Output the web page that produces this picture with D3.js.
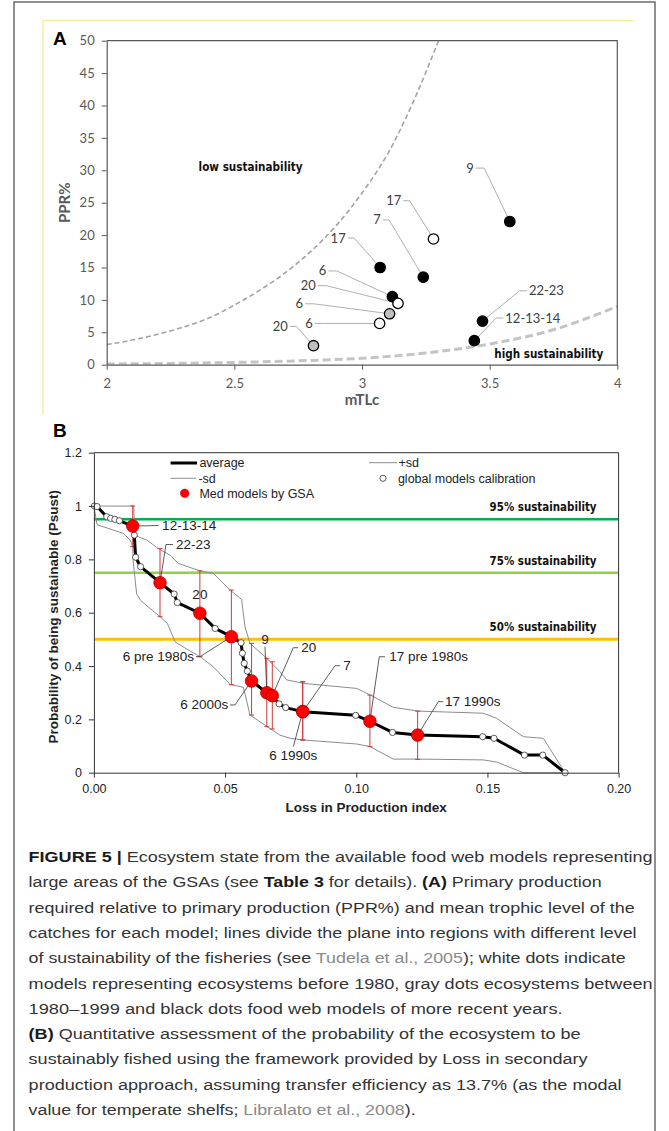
<!DOCTYPE html>
<html>
<head>
<meta charset="utf-8">
<script src="https://cdn.jsdelivr.net/npm/d3@7"></script>
<style>
  body { margin: 0; background: #fff; }
  svg { display: block; }
</style>
</head>
<body>
<div id="chart"></div>
<script>
var svgWidth = 669;
var svgHeight = 1131;

// ---------- Panel A data (mTLc vs PPR%) ----------
var modelLabelsA = ["9", "17", "7", "17", "6", "20", "6", "6", "20", "22-23", "12-13-14"];
var mtlc = [3.579, 3.28, 3.24, 3.071, 3.119, 3.141, 3.108, 3.069, 2.81, 3.472, 3.44];
var pprPct = [22.1, 19.4, 13.5, 15.0, 10.5, 9.46, 7.86, 6.37, 2.93, 6.73, 3.7];
var periodA = ["recent", "pre1980", "recent", "recent", "recent", "pre1980", "1980s", "pre1980", "1980s", "recent", "recent"];

// Tudela et al. boundaries
var lowSustX = [2.0, 2.1, 2.2, 2.3, 2.4, 2.5, 2.6, 2.7, 2.8, 2.9, 3.0, 3.1, 3.2, 3.3];
var lowSustY = [3.1, 3.8, 4.7, 5.8, 7.2, 9.2, 11.5, 14.2, 17.5, 21.5, 26.5, 32.5, 40.5, 50];
var highSustX = [2.0, 2.25, 2.5, 2.75, 3.0, 3.25, 3.5, 3.75, 4.0];
var highSustY = [0.1, 0.2, 0.35, 0.6, 1.0, 1.8, 3.2, 5.4, 9.0];

var xTicksA = [2, 2.5, 3, 3.5, 4];
var yTicksA = [0, 5, 10, 15, 20, 25, 30, 35, 40, 45, 50];

// ---------- Panel B data (Loss in Production vs Psust) ----------
var medLabels = ["12-13-14", "22-23", "20", "6 pre 1980s", "6 2000s", "9", "20", "7", "6 1990s", "17 pre 1980s", "17 1990s"];
var medLoss = [0.0148, 0.0252, 0.0404, 0.0524, 0.0601, 0.0659, 0.068, 0.0796, 0.0796, 0.1052, 0.1234];
var medPsust = [0.925, 0.7125, 0.598, 0.51, 0.344, 0.30, 0.289, 0.229, 0.229, 0.193, 0.141];
var medSdHigh = [1.0, 0.84, 0.757, 0.685, 0.485, 0.429, 0.416, 0.341, 0.341, 0.291, 0.231];
var medSdLow = [0.848, 0.585, 0.435, 0.33, 0.216, 0.1725, 0.164, 0.1226, 0.1226, 0.098, 0.05];

var globalLoss = [0.0002, 0.0012, 0.0049, 0.0064, 0.008, 0.0097, 0.0154, 0.0159, 0.0178, 0.0306, 0.0318,
  0.0462, 0.0561, 0.0566, 0.0573, 0.0585, 0.0706, 0.0731, 0.0998, 0.1138, 0.1482, 0.1525, 0.1641, 0.1711, 0.1796];
var globalPsust = [1.0, 0.998, 0.960, 0.954, 0.950, 0.945, 0.891, 0.808, 0.7725, 0.67, 0.638,
  0.541, 0.4875, 0.448, 0.41, 0.381, 0.258, 0.244, 0.215, 0.151, 0.135, 0.129, 0.066, 0.066, 0];

var plusSdLoss = [0, 0.0152, 0.0155, 0.0201, 0.0245, 0.029, 0.0322, 0.0404, 0.0455, 0.0519, 0.0563, 0.0576,
  0.0595, 0.0659, 0.0709, 0.0735, 0.0798, 0.1002, 0.1052, 0.1141, 0.1237, 0.1484, 0.1535, 0.1637, 0.1713, 0.1796];
var plusSdPsust = [1.0, 1.0, 0.89, 0.873, 0.841, 0.816, 0.785, 0.757, 0.7475, 0.685, 0.65, 0.547,
  0.485, 0.429, 0.379, 0.348, 0.335, 0.316, 0.292, 0.245, 0.231, 0.223, 0.204, 0.135, 0.129, 0];

var minusSdLoss = [0, 0.0012, 0.0112, 0.0138, 0.0148, 0.015, 0.0163, 0.0179, 0.0252, 0.028, 0.031, 0.036,
  0.0405, 0.0455, 0.0519, 0.057, 0.0595, 0.0671, 0.0709, 0.0748, 0.0798, 0.1002, 0.1052, 0.1141,
  0.1237, 0.1484, 0.1535, 0.1637, 0.18];
var minusSdPsust = [1.0, 0.93, 0.8975, 0.8725, 0.85, 0.79, 0.67, 0.645, 0.585, 0.56, 0.49, 0.46,
  0.435, 0.3975, 0.331, 0.32, 0.216, 0.166, 0.141, 0.129, 0.1226, 0.1076, 0.098, 0.051,
  0.051, 0.048, 0.04, 0, 0];

var sustLevels = [0.95, 0.75, 0.5];
var sustLabels = ["95% sustainability", "75% sustainability", "50% sustainability"];
var sustColors = ["#00b050", "#92d050", "#ffc000"];

var xTicksB = [0, 0.05, 0.1, 0.15, 0.2];
var yTicksB = [0, 0.2, 0.4, 0.6, 0.8, 1, 1.2];

// ---------- fonts ----------
var fontNarrow = '"Liberation Sans Narrow", "DejaVu Sans Condensed", sans-serif';
var fontLato = 'Lato, "Liberation Sans", sans-serif';
var fontArial = '"Liberation Sans", Arial, sans-serif';

var svg = d3.select("#chart")
  .append("svg")
  .attr("width", svgWidth)
  .attr("height", svgHeight);

// outer frame + yellow panel edge
svg.append("rect")
  .attr("x", 14).attr("y", 2).attr("width", 641).attr("height", 1200)
  .attr("fill", "none").attr("stroke", "#555").attr("stroke-width", 1.3);
svg.append("path")
  .attr("d", "M43,415V20.7H634")
  .attr("fill", "none").attr("stroke", "#f2ee98").attr("stroke-width", 1.3);

// ================= PANEL A =================
var marginA = {top: 40.7, left: 106.7},
  widthA = 510.6,
  heightA = 324;

var chartA = svg.append("g")
  .attr("transform", `translate(${marginA.left}, ${marginA.top})`);

var xA = d3.scaleLinear().domain([2, 4]).range([0, widthA]);
var yA = d3.scaleLinear().domain([0, 50]).range([heightA, 0]);

chartA.append("clipPath").attr("id", "clipA")
  .append("rect").attr("width", widthA).attr("height", heightA);

var axisColA = "#595959";

// boundaries
var boundLine = d3.line()
  .x(d => xA(d[0]))
  .y(d => yA(d[1]))
  .curve(d3.curveMonotoneX);

chartA.append("path")
  .datum(d3.zip(lowSustX, lowSustY))
  .attr("d", boundLine)
  .attr("clip-path", "url(#clipA)")
  .attr("fill", "none")
  .attr("stroke", "#a3a3a3")
  .attr("stroke-width", 1.6)
  .attr("stroke-dasharray", "5,3");

chartA.append("path")
  .datum(d3.zip(highSustX, highSustY))
  .attr("d", boundLine)
  .attr("clip-path", "url(#clipA)")
  .attr("fill", "none")
  .attr("stroke", "#c4c4c4")
  .attr("stroke-width", 3)
  .attr("stroke-dasharray", "8,4");

var leftAxisA = chartA.append("g")
  .call(d3.axisLeft(yA).tickValues(yTicksA).tickSize(5).tickPadding(7).tickSizeOuter(0));

var bottomAxisA = chartA.append("g")
  .attr("transform", `translate(0, ${heightA})`)
  .call(d3.axisBottom(xA).tickValues(xTicksA).tickFormat(d => d).tickSize(5).tickPadding(9).tickSizeOuter(0));

[leftAxisA, bottomAxisA].forEach(function(a) {
  a.select(".domain").attr("stroke", axisColA).attr("stroke-width", 1.2);
  a.selectAll(".tick line").attr("stroke", axisColA);
  a.selectAll("text")
    .attr("fill", axisColA)
    .attr("font-family", fontLato)
    .attr("font-size", "13px");
});

chartA.append("path")
  .attr("d", `M0,0H${widthA}V${heightA}`)
  .attr("fill", "none").attr("stroke", axisColA).attr("stroke-width", 1.2);

// label layout: leader start (dx,dy) and elbow dx, relative to the dot
var leaderA = [[-34.1, -53.4, -25.6], [-30.2, -38.3, -23.8], [-40.5, -57.3, -34.2], [-32.4, -29.4, -26],
  [-64, -25.7, -55.5], [-80.2, -17.7, -71.6], [-84.5, -10, -75.9], [-64.9, 0, -56],
  [-23.6, -19.3, -17.1], [44.4, -30.3, 37.1], [29, -22.7, 21.8]];

var pointsA = modelLabelsA.map((lab, i) => ({label: lab, x: mtlc[i], y: pprPct[i], period: periodA[i], lay: leaderA[i]}));

chartA.append("g").selectAll("path")
  .data(pointsA)
  .enter()
  .append("path")
  .attr("d", function(d) {
    var px = xA(d.x), py = yA(d.y);
    return `M${px + d.lay[0]},${py + d.lay[1]}H${px + d.lay[2]}L${px},${py}`;
  })
  .attr("fill", "none")
  .attr("stroke", "#a6a6a6")
  .attr("stroke-width", 0.9);

chartA.append("g").selectAll("text")
  .data(pointsA)
  .enter()
  .append("text")
  .text(d => d.label)
  .attr("x", d => xA(d.x) + d.lay[0] + (d.lay[0] < 0 ? -2 : 2))
  .attr("y", d => yA(d.y) + d.lay[1] + 4.5)
  .attr("text-anchor", d => d.lay[0] < 0 ? "end" : "start")
  .attr("font-family", fontLato)
  .attr("font-size", "13px")
  .attr("fill", "#404040");

var fillByPeriod = {recent: "#000", pre1980: "#fff", "1980s": "#bfbfbf"};

chartA.append("g").selectAll("circle")
  .data(pointsA)
  .enter()
  .append("circle")
  .attr("cx", d => xA(d.x))
  .attr("cy", d => yA(d.y))
  .attr("r", 5.2)
  .attr("fill", d => fillByPeriod[d.period])
  .attr("stroke", "#000")
  .attr("stroke-width", 1.3);

chartA.append("text")
  .attr("x", xA(2.36)).attr("y", 130.5)
  .attr("textLength", 104).attr("lengthAdjust", "spacingAndGlyphs")
  .attr("font-family", fontNarrow).attr("font-weight", "bold").attr("font-size", "13px")
  .attr("fill", "#111")
  .text("low sustainability");

chartA.append("text")
  .attr("x", widthA - 123).attr("y", 317)
  .attr("textLength", 109).attr("lengthAdjust", "spacingAndGlyphs")
  .attr("font-family", fontNarrow).attr("font-weight", "bold").attr("font-size", "13px")
  .attr("fill", "#111")
  .text("high sustainability");

chartA.append("text")
  .attr("transform", "rotate(-90)")
  .attr("x", -heightA / 2).attr("y", -37)
  .attr("text-anchor", "middle")
  .attr("font-family", fontLato).attr("font-weight", "bold").attr("font-size", "15px")
  .attr("fill", axisColA)
  .text("PPR%");

chartA.append("text")
  .attr("x", widthA / 2).attr("y", heightA + 40)
  .attr("text-anchor", "middle")
  .attr("font-family", fontLato).attr("font-weight", "bold").attr("font-size", "15px")
  .attr("fill", axisColA)
  .text("mTLc");

svg.append("text")
  .attr("x", 53).attr("y", 45)
  .attr("font-family", fontArial).attr("font-weight", "bold").attr("font-size", "19px")
  .text("A");

// ================= PANEL B =================
var marginB = {top: 452.7, left: 93.9},
  widthB = 524.7,
  heightB = 320;

var chartB = svg.append("g")
  .attr("transform", `translate(${marginB.left}, ${marginB.top})`);

var xB = d3.scaleLinear().domain([0, 0.2]).range([0, widthB]);
var yB = d3.scaleLinear().domain([0, 1.2]).range([heightB, 0]);

// sustainability thresholds
chartB.append("g").selectAll("line")
  .data(sustLevels)
  .enter()
  .append("line")
  .attr("x1", 0).attr("x2", widthB)
  .attr("y1", d => yB(d)).attr("y2", d => yB(d))
  .attr("stroke", (d, i) => sustColors[i])
  .attr("stroke-width", (d, i) => i === 2 ? 3 : 2.5);

chartB.append("g").selectAll("text")
  .data(sustLevels)
  .enter()
  .append("text")
  .attr("x", widthB - 22 - 107)
  .attr("y", d => yB(d) - 8)
  .attr("textLength", 107).attr("lengthAdjust", "spacingAndGlyphs")
  .attr("font-family", fontNarrow).attr("font-weight", "bold").attr("font-size", "13px")
  .attr("fill", "#111")
  .text((d, i) => sustLabels[i]);

// +sd / -sd envelopes
var xyLine = d3.line().x(d => xB(d[0])).y(d => yB(d[1]));

chartB.append("path")
  .datum(d3.zip(plusSdLoss, plusSdPsust))
  .attr("d", xyLine)
  .attr("fill", "none").attr("stroke", "#8c8c8c").attr("stroke-width", 1);

chartB.append("path")
  .datum(d3.zip(minusSdLoss, minusSdPsust))
  .attr("d", xyLine)
  .attr("fill", "none").attr("stroke", "#8c8c8c").attr("stroke-width", 1);

var medPoints = medLabels.map((lab, i) => ({label: lab, x: medLoss[i], y: medPsust[i], hi: medSdHigh[i], lo: medSdLow[i]}));

// error bars
var errBars = chartB.append("g").attr("stroke", "#cc3b3b").attr("stroke-width", 1).attr("fill", "none");
errBars.selectAll("path")
  .data(medPoints)
  .enter()
  .append("path")
  .attr("d", function(d) {
    var px = xB(d.x);
    return `M${px},${yB(d.hi)}V${yB(d.lo)}M${px - 2.5},${yB(d.hi)}H${px + 2.5}M${px - 2.5},${yB(d.lo)}H${px + 2.5}`;
  });

// average curve through calibration points and Med models
var avgPoints = d3.sort(d3.zip(globalLoss, globalPsust).concat(d3.zip(medLoss, medPsust)), d => d[0]);

chartB.append("path")
  .datum(avgPoints)
  .attr("d", xyLine)
  .attr("fill", "none").attr("stroke", "#000").attr("stroke-width", 3)
  .attr("stroke-linejoin", "round");

chartB.append("g").selectAll("circle")
  .data(d3.zip(globalLoss, globalPsust))
  .enter()
  .append("circle")
  .attr("cx", d => xB(d[0]))
  .attr("cy", d => yB(d[1]))
  .attr("r", 3.1)
  .attr("fill", "#fff")
  .attr("stroke", "#333")
  .attr("stroke-width", 0.8);

// label layout for Med models: text offset, anchor, leader points
var layoutB = [
  {tx: 29.4, ty: 3.8, a: "start", pts: [[26, -0.5]]},
  {tx: 16, ty: -33.7, a: "start", pts: [[13, -38.2], [6, -38.2]]},
  {tx: 0, ty: -14.5, a: "middle", pts: []},
  {tx: -37.4, ty: 24.5, a: "end", pts: [[-35.4, 20], [-31.4, 20]]},
  {tx: -23.3, ty: 28.5, a: "end", pts: [[-21.6, 24], [-16.6, 24]]},
  {tx: -1.8, ty: -48.2, a: "middle", pts: [[-1.8, -46]]},
  {tx: 29, ty: -43.5, a: "start", pts: [[26, -47.9], [21, -47.9]]},
  {tx: 40.5, ty: -41.5, a: "start", pts: [[37.3, -45.9], [32.3, -45.9]]},
  {tx: -9.4, ty: 47.9, a: "middle", pts: [[-9.4, 35]]},
  {tx: 19.4, ty: -60, a: "start", pts: [[15.1, -64.5], [9.4, -64.5]]},
  {tx: 27.4, ty: -28.9, a: "start", pts: [[25.7, -33.4], [20.7, -33.4]]}
];

chartB.append("g").selectAll("path")
  .data(medPoints.filter((d, i) => layoutB[i].pts.length))
  .enter()
  .append("path")
  .attr("d", function(d) {
    var i = medPoints.indexOf(d);
    var px = xB(d.x), py = yB(d.y);
    return "M" + layoutB[i].pts.map(p => `${px + p[0]},${py + p[1]}`).join("L") + `L${px},${py}`;
  })
  .attr("fill", "none").attr("stroke", "#333").attr("stroke-width", 0.8);

chartB.append("g").selectAll("circle")
  .data(medPoints)
  .enter()
  .append("circle")
  .attr("cx", d => xB(d.x))
  .attr("cy", d => yB(d.y))
  .attr("r", 6.3)
  .attr("fill", "#ff0000")
  .attr("stroke", "#a00000")
  .attr("stroke-width", 0.7);

chartB.append("g").selectAll("text")
  .data(medPoints)
  .enter()
  .append("text")
  .text(d => d.label)
  .attr("x", (d, i) => xB(d.x) + layoutB[i].tx)
  .attr("y", (d, i) => yB(d.y) + layoutB[i].ty)
  .attr("text-anchor", (d, i) => layoutB[i].a)
  .attr("font-family", fontArial)
  .attr("font-size", "13.5px")
  .attr("fill", "#222");

// axes
var leftAxisB = chartB.append("g")
  .call(d3.axisLeft(yB).tickValues(yTicksB)
    .tickFormat(d => (d === 0 || d === 1) ? String(d) : d3.format(".1f")(d))
    .tickSize(5).tickPadding(7).tickSizeOuter(0));

var bottomAxisB = chartB.append("g")
  .attr("transform", `translate(0, ${heightB})`)
  .call(d3.axisBottom(xB).tickValues(xTicksB)
    .tickFormat(d3.format(".2f")).tickSize(5).tickPadding(6).tickSizeOuter(0));

[leftAxisB, bottomAxisB].forEach(function(a) {
  a.select(".domain").attr("stroke", "#333");
  a.selectAll(".tick line").attr("stroke", "#333");
  a.selectAll("text")
    .attr("fill", "#222")
    .attr("font-family", fontArial)
    .attr("font-size", "12.5px");
});

chartB.append("path")
  .attr("d", `M0,0H${widthB}V${heightB}`)
  .attr("fill", "none").attr("stroke", "#333");

// legend
var legend = chartB.append("g")
  .attr("font-family", fontArial).attr("font-size", "12.5px").attr("fill", "#222");

legend.append("line").attr("x1", 76.7).attr("x2", 103.1).attr("y1", 10.3).attr("y2", 10.3)
  .attr("stroke", "#000").attr("stroke-width", 3);
legend.append("text").attr("x", 105.5).attr("y", 14.8).text("average");

legend.append("line").attr("x1", 76.7).attr("x2", 102).attr("y1", 25.6).attr("y2", 25.6)
  .attr("stroke", "#8c8c8c").attr("stroke-width", 1);
legend.append("text").attr("x", 104.5).attr("y", 30.1).text("-sd");

legend.append("circle").attr("cx", 90.8).attr("cy", 40.6).attr("r", 4.3)
  .attr("fill", "#ff0000").attr("stroke", "#a00000").attr("stroke-width", 0.5);
legend.append("text").attr("x", 105.5).attr("y", 45.1).text("Med models by GSA");

legend.append("line").attr("x1", 275.1).attr("x2", 303.1).attr("y1", 10).attr("y2", 10)
  .attr("stroke", "#8c8c8c").attr("stroke-width", 1);
legend.append("text").attr("x", 304.5).attr("y", 14.5).text("+sd");

legend.append("circle").attr("cx", 289.1).attr("cy", 25.6).attr("r", 3.1)
  .attr("fill", "#fff").attr("stroke", "#333").attr("stroke-width", 0.8);
legend.append("text").attr("x", 304).attr("y", 30.1).text("global models calibration");

// axis titles
chartB.append("text")
  .attr("transform", "rotate(-90)")
  .attr("x", -heightB / 2 - 4).attr("y", -36)
  .attr("text-anchor", "middle")
  .attr("font-family", fontArial).attr("font-weight", "bold").attr("font-size", "13.5px")
  .attr("fill", "#222")
  .text("Probability of being sustainable (Psust)");

chartB.append("text")
  .attr("x", widthB / 2 + 10).attr("y", heightB + 39)
  .attr("text-anchor", "middle")
  .attr("font-family", fontArial).attr("font-weight", "bold").attr("font-size", "13.5px")
  .attr("fill", "#222")
  .text("Loss in Production index");

svg.append("text")
  .attr("x", 53).attr("y", 436.5)
  .attr("font-family", fontArial).attr("font-weight", "bold").attr("font-size", "19px")
  .text("B");

// ================= CAPTION =================
var captionLines = [
  [["b", "FIGURE 5 | "], ["n", "Ecosystem state from the available food web models representing"]],
  [["n", "large areas of the GSAs (see "], ["b", "Table 3"], ["n", " for details). "], ["b", "(A)"], ["n", " Primary production"]],
  [["n", "required relative to primary production (PPR%) and mean trophic level of the"]],
  [["n", "catches for each model; lines divide the plane into regions with different level"]],
  [["n", "of sustainability of the fisheries (see "], ["l", "Tudela et al., 2005"], ["n", "); white dots indicate"]],
  [["n", "models representing ecosystems before 1980, gray dots ecosystems between"]],
  [["n", "1980\u20131999 and black dots food web models of more recent years."]],
  [["b", "(B)"], ["n", " Quantitative assessment of the probability of the ecosystem to be"]],
  [["n", "sustainably fished using the framework provided by Loss in secondary"]],
  [["n", "production approach, assuming transfer efficiency as 13.7% (as the modal"]],
  [["n", "value for temperate shelfs; "], ["l", "Libralato et al., 2008"], ["n", ")."]]
];
var captionWidths = [624, 573, 606, 608, 597, 624, 534, 552, 559, 593, 387];

var caption = svg.append("g")
  .attr("font-family", fontArial)
  .attr("font-size", "15.5px");

captionLines.forEach(function(line, i) {
  var t = caption.append("text")
    .attr("x", 28.6)
    .attr("y", 862 + i * 25.3)
    .attr("textLength", captionWidths[i])
    .attr("lengthAdjust", "spacingAndGlyphs");
  line.forEach(function(seg) {
    t.append("tspan")
      .text(seg[1])
      .attr("font-weight", seg[0] === "b" ? "bold" : "normal")
      .attr("fill", seg[0] === "l" ? "#8a8a8a" : (seg[0] === "b" ? "#1a1a1a" : "#333"));
  });
});
</script>
</body>
</html>
